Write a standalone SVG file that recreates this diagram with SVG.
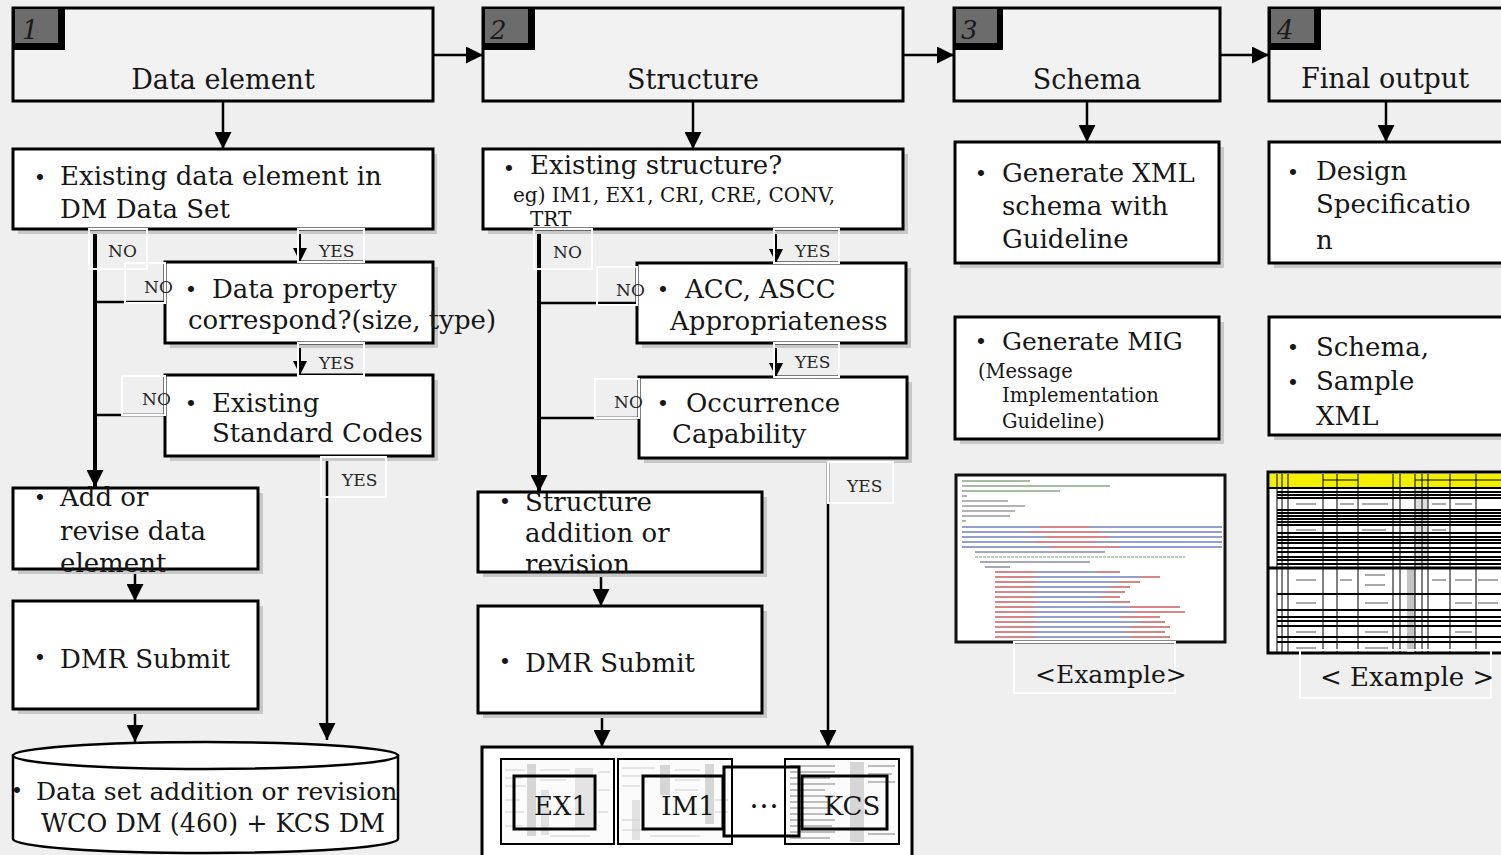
<svg xmlns="http://www.w3.org/2000/svg" width="1501" height="855" viewBox="0 0 1501 855">
<style>
.t{font-family:"DejaVu Serif","Liberation Serif",serif;font-size:26px;fill:#161616}
.hd{font-size:27px;text-anchor:middle}
.sm{font-size:20px}
.mi{font-size:19.5px}
.yn{font-size:17px;fill:#262626}
.bu{font-size:21px;text-anchor:middle}
.mid{text-anchor:middle}
.num{font-style:italic;font-size:26px;fill:#1a1a1a}
.hdr{fill:#f2f2f2;stroke:#000;stroke-width:3}
.box{fill:#fff;stroke:#000;stroke-width:3}
.sh{fill:#c8c8c8}
.tab{fill:#6c6c6c}
.lb{fill:none;stroke:#fff;stroke-width:2}
.c{fill:none;stroke:#000;stroke-width:2.5}
.ck{fill:none;stroke:#000;stroke-width:4}
.cy{fill:none;stroke:#000;stroke-width:2}
.fa{fill:#d6d6d6}
.fl{stroke:#cfcfcf;stroke-width:1.2}
.xg{stroke-width:1.4;fill:none}
.tv{stroke:#000;stroke-width:1}
.th{stroke:#000;stroke-width:2}
</style>
<defs>
<marker id="ah" viewBox="0 0 17 17" refX="17" refY="8.5" markerWidth="17" markerHeight="17" markerUnits="userSpaceOnUse" orient="auto"><path d="M0,0 L17,8.5 L0,17 z" fill="#000"/></marker>
<marker id="ahs" viewBox="0 0 14 14" refX="14" refY="7" markerWidth="14" markerHeight="14" markerUnits="userSpaceOnUse" orient="auto"><path d="M0,0 L14,7 L0,14 z" fill="#000"/></marker>
</defs>
<rect x="0" y="0" width="1501" height="855" fill="#efefef"/>

<!-- connectors -->
<g id="connectors">
<path class="c" d="M433,55 H483" marker-end="url(#ah)"/>
<path class="c" d="M903,55 H954" marker-end="url(#ah)"/>
<path class="c" d="M1220,55 H1269" marker-end="url(#ah)"/>
<path class="c" d="M223,101 V149" marker-end="url(#ah)"/>
<path class="c" d="M693,101 V149" marker-end="url(#ah)"/>
<path class="c" d="M1087,101 V142" marker-end="url(#ah)"/>
<path class="c" d="M1386,101 V142" marker-end="url(#ah)"/>
<path class="ck" d="M95,229 V487" marker-end="url(#ah)"/>
<path class="cy" d="M300,229 V262" marker-end="url(#ahs)"/>
<path class="c" d="M95,302 H165"/>
<path class="cy" d="M300,343 V375" marker-end="url(#ahs)"/>
<path class="c" d="M95,415 H165"/>
<path class="c" d="M327,456 V740" marker-end="url(#ah)"/>
<path class="c" d="M135,569 V601" marker-end="url(#ah)"/>
<path class="c" d="M135,709 V742" marker-end="url(#ah)"/>
<path class="ck" d="M539,229 V492" marker-end="url(#ah)"/>
<path class="cy" d="M776,229 V263" marker-end="url(#ahs)"/>
<path class="c" d="M539,303 H637"/>
<path class="cy" d="M776,343 V377" marker-end="url(#ahs)"/>
<path class="c" d="M539,418 H639"/>
<path class="c" d="M828,458 V747" marker-end="url(#ah)"/>
<path class="c" d="M601,572 V606" marker-end="url(#ah)"/>
<path class="c" d="M602,713 V747" marker-end="url(#ah)"/>
</g>

<!-- headers -->
<g id="h1">
<rect class="hdr" x="13" y="8" width="420" height="93"/>
<rect x="13" y="7" width="52" height="43" fill="#000"/>
<rect class="tab" x="15" y="9" width="43" height="34"/>
<text class="t num" x="22" y="39">1</text>
<text class="t hd" x="223" y="89">Data element</text>
</g>
<g id="h2">
<rect class="hdr" x="483" y="8" width="420" height="93"/>
<rect x="483" y="7" width="52" height="43" fill="#000"/>
<rect class="tab" x="485" y="9" width="43" height="34"/>
<text class="t num" x="490" y="39">2</text>
<text class="t hd" x="693" y="89">Structure</text>
</g>
<g id="h3">
<rect class="hdr" x="954" y="8" width="266" height="93"/>
<rect x="954" y="7" width="49" height="43" fill="#000"/>
<rect class="tab" x="956" y="9" width="41" height="34"/>
<text class="t num" x="961" y="39">3</text>
<text class="t hd" x="1087" y="89">Schema</text>
</g>
<g id="h4">
<rect class="hdr" x="1269" y="8" width="240" height="93"/>
<rect x="1269" y="7" width="52" height="43" fill="#000"/>
<rect class="tab" x="1271" y="9" width="43" height="34"/>
<text class="t num" x="1277" y="39">4</text>
<text class="t hd" x="1385" y="88">Final output</text>
</g>

<!-- column 1 -->
<g id="n-existing-element">
<rect class="sh" x="18" y="154" width="419" height="80"/>
<rect class="box" x="13" y="149" width="420" height="80"/>
<text class="t bu" x="40" y="185">•</text>
<text class="t" x="60" y="185">Existing data element in</text>
<text class="t" x="60" y="218">DM Data Set</text>
</g>
<g id="n-data-property">
<rect class="sh" x="170" y="267" width="268" height="81"/>
<rect class="box" x="165" y="262" width="268" height="81"/>
<text class="t bu" x="191" y="297">•</text>
<text class="t" x="212" y="298">Data property</text>
<text class="t" x="188" y="329">correspond?(size, type)</text>
</g>
<g id="n-standard-codes">
<rect class="sh" x="170" y="380" width="268" height="81"/>
<rect class="box" x="165" y="375" width="268" height="81"/>
<text class="t bu" x="191" y="411">•</text>
<text class="t" x="212" y="412">Existing</text>
<text class="t" x="212" y="442">Standard Codes</text>
</g>
<g id="n-add-revise">
<rect class="sh" x="18" y="493" width="245" height="81"/>
<rect class="box" x="13" y="488" width="245" height="81"/>
<text class="t bu" x="40" y="505">•</text>
<text class="t" x="60" y="506">Add or</text>
<text class="t" x="60" y="540">revise data</text>
<text class="t" x="60" y="572">element</text>
</g>
<g id="n-dmr1">
<rect class="sh" x="18" y="606" width="245" height="108"/>
<rect class="box" x="13" y="601" width="245" height="108"/>
<text class="t bu" x="40" y="665">•</text>
<text class="t" x="60" y="668">DMR Submit</text>
</g>
<g id="n-dataset">
<path d="M13,755.5 V839 A192.5,14 0 0 0 398,839 V755.5 Z" fill="#fff" stroke="#000" stroke-width="2.5"/>
<ellipse cx="205.5" cy="755.5" rx="192.5" ry="13.5" fill="#fff" stroke="#000" stroke-width="2.5"/>
<text class="t bu" x="17" y="798">•</text>
<text class="t" x="36" y="800" style="font-size:25px">Data set addition or revision</text>
<text class="t" x="41" y="832" style="font-size:25.4px">WCO DM (460) + KCS DM</text>
</g>

<!-- column 2 -->
<g id="n-existing-structure">
<rect class="sh" x="488" y="154" width="420" height="80"/>
<rect class="box" x="483" y="149" width="420" height="80"/>
<text class="t bu" x="509" y="176">•</text>
<text class="t" x="530" y="174">Existing structure?</text>
<text class="t sm" x="513" y="202">eg) IM1, EX1, CRI, CRE, CONV,</text>
<text class="t sm" x="530" y="226">TRT</text>
</g>
<g id="n-acc">
<rect class="sh" x="642" y="268" width="269" height="80"/>
<rect class="box" x="637" y="263" width="269" height="80"/>
<text class="t bu" x="663" y="297">•</text>
<text class="t" x="685" y="298">ACC, ASCC</text>
<text class="t" x="670" y="330">Appropriateness</text>
</g>
<g id="n-occurrence">
<rect class="sh" x="644" y="382" width="268" height="81"/>
<rect class="box" x="639" y="377" width="268" height="81"/>
<text class="t bu" x="663" y="411">•</text>
<text class="t" x="686" y="412">Occurrence</text>
<text class="t" x="672" y="443">Capability</text>
</g>
<g id="n-structure-add">
<rect class="sh" x="483" y="497" width="284" height="80"/>
<rect class="box" x="478" y="492" width="284" height="80"/>
<text class="t bu" x="505" y="509">•</text>
<text class="t" x="525" y="511">Structure</text>
<text class="t" x="525" y="542">addition or</text>
<text class="t" x="525" y="573">revision</text>
</g>
<g id="n-dmr2">
<rect class="sh" x="483" y="611" width="284" height="107"/>
<rect class="box" x="478" y="606" width="284" height="107"/>
<text class="t bu" x="505" y="669">•</text>
<text class="t" x="525" y="672">DMR Submit</text>
</g>
<g id="n-structures">
<rect class="box" x="482" y="747" width="430" height="115"/>
<rect x="501" y="759" width="113" height="85" fill="#fbfbfb" stroke="#000" stroke-width="2"/>
<g class="fa">
<rect x="527" y="764" width="9" height="72"/><rect x="575" y="768" width="18" height="60" opacity="0.6"/>
<rect x="541" y="790" width="8" height="45" opacity="0.7"/>
</g>
<g class="fl">
<path d="M505,770 H525 M505,778 H522 M505,786 H526 M505,800 H520 M505,812 H524 M505,826 H522 M540,770 H570 M540,780 H566 M598,772 H610 M598,790 H610 M598,812 H608 M550,836 H590"/>
</g>
<rect x="514" y="776" width="81" height="53" fill="none" stroke="#000" stroke-width="3"/>
<text class="t mid" x="561" y="815">EX1</text>
<rect x="618" y="759" width="114" height="85" fill="#fbfbfb" stroke="#000" stroke-width="2"/>
<g class="fa">
<rect x="660" y="765" width="10" height="30"/><rect x="705" y="764" width="9" height="60"/>
<rect x="632" y="800" width="8" height="40" opacity="0.7"/>
</g>
<g class="fl">
<path d="M622,768 H655 M622,776 H650 M622,786 H640 M675,770 H700 M675,780 H700 M675,790 H698 M622,820 H640 M622,830 H645 M650,836 H700 M715,800 H728 M715,812 H728"/>
</g>
<rect x="643" y="776" width="80" height="53" fill="none" stroke="#000" stroke-width="3"/>
<text class="t mid" x="688" y="815">IM1</text>
<rect x="785" y="759" width="114" height="85" fill="#fbfbfb" stroke="#000" stroke-width="2"/>
<g class="fa">
<rect x="850" y="762" width="14" height="80"/>
</g>
<g class="fl" style="stroke:#bdbdbd;stroke-width:2">
<path d="M790,766 H835 M790,772 H835 M790,778 H830 M790,784 H835 M790,790 H825 M790,796 H835 M790,802 H830 M790,808 H835 M790,814 H830 M790,820 H835 M790,826 H832 M790,832 H835 M790,838 H830 M868,766 H895 M868,774 H892 M868,782 H895 M868,834 H895"/>
</g>
<rect x="802" y="776" width="85" height="53" fill="none" stroke="#000" stroke-width="3"/>
<text class="t mid" x="852" y="815">KCS</text>
<rect x="724" y="767" width="75" height="69" fill="none" stroke="#000" stroke-width="3"/>
<text class="t mid" x="764" y="808" style="font-size:30px">…</text>
</g>

<!-- column 3 -->
<g id="n-xml-schema">
<rect class="sh" x="960" y="147" width="264" height="121"/>
<rect class="box" x="955" y="142" width="264" height="121"/>
<text class="t bu" x="981" y="181">•</text>
<text class="t" x="1002" y="182">Generate XML</text>
<text class="t" x="1002" y="215">schema with</text>
<text class="t" x="1002" y="248">Guideline</text>
</g>
<g id="n-mig">
<rect class="sh" x="960" y="322" width="264" height="122"/>
<rect class="box" x="955" y="317" width="264" height="122"/>
<text class="t bu" x="981" y="349">•</text>
<text class="t" x="1002" y="350" style="font-size:25px">Generate MIG</text>
<text class="t mi" x="978" y="378">(Message</text>
<text class="t mi" x="1002" y="402">Implementation</text>
<text class="t mi" x="1002" y="428">Guideline)</text>
</g>
<g id="n-xml-example">
<rect x="956" y="475" width="269" height="167" fill="#fff" stroke="#111" stroke-width="3"/>
<g class="xg">
<path stroke="#8aa58a" d="M962,481 H1030 M962,486 H1110 M962,491 H1060"/>
<path stroke="#9a9a9a" d="M962,496 H967 M962,501 H1008 M962,506 H1025 M962,511 H1015 M962,516 H1010 M962,521 H966"/>
<path stroke="#7080c0" d="M962,527 H1040 M1090,527 H1222 M962,532 H1030 M1100,532 H1222 M962,537 H1045 M1110,537 H1222 M962,542 H1035 M1095,542 H1222 M962,547 H1050 M1120,547 H1222"/>
<path stroke="#c86060" d="M1040,527 H1090 M1030,532 H1100 M1045,537 H1110 M1035,542 H1095 M1050,547 H1120"/>
<path stroke="#8a8aa0" d="M975,552 H1105 M980,562 H1090 M985,567 H1010"/>
<path stroke="#a8bca8" stroke-dasharray="3 1" d="M975,557 H1185"/>
<path stroke="#c86060" d="M995,572 H1035 M995,577 H1035 M995,582 H1035 M995,587 H1035 M995,592 H1035 M995,597 H1035 M995,602 H1035 M995,607 H1035 M995,612 H1035 M995,617 H1035 M995,622 H1035 M995,627 H1035 M995,632 H1035 M995,637 H1035"/>
<path stroke="#7080c0" d="M1035,572 H1095 M1035,577 H1140 M1035,582 H1120 M1035,587 H1110 M1035,592 H1105 M1035,597 H1100 M1035,602 H1110 M1035,607 H1130 M1035,612 H1135 M1035,617 H1120 M1035,622 H1140 M1035,627 H1130 M1035,632 H1125 M1035,637 H1130"/>
<path stroke="#c86060" d="M1095,572 H1120 M1140,577 H1160 M1120,582 H1140 M1110,587 H1130 M1105,592 H1125 M1100,597 H1120 M1110,602 H1130 M1130,607 H1180 M1135,612 H1185 M1120,617 H1160 M1140,622 H1165 M1130,627 H1170 M1125,632 H1165 M1130,637 H1170"/>
</g>
</g>
<g id="l-example1">
<rect class="lb" x="1014" y="642" width="161" height="51"/>
<text class="t" x="1035" y="683" style="font-size:25px">&lt;Example&gt;</text>
</g>

<!-- column 4 -->
<g id="n-design-spec">
<rect class="sh" x="1274" y="147" width="240" height="121"/>
<rect class="box" x="1269" y="142" width="240" height="121"/>
<text class="t bu" x="1293" y="180">•</text>
<text class="t" x="1316" y="180">Design</text>
<text class="t" x="1316" y="213">Specificatio</text>
<text class="t" x="1316" y="249">n</text>
</g>
<g id="n-schema-sample">
<rect class="sh" x="1274" y="322" width="240" height="118"/>
<rect class="box" x="1269" y="317" width="240" height="118"/>
<text class="t bu" x="1293" y="355">•</text>
<text class="t" x="1316" y="356">Schema,</text>
<text class="t bu" x="1293" y="390">•</text>
<text class="t" x="1316" y="390">Sample</text>
<text class="t" x="1316" y="425">XML</text>
</g>
<g id="n-table-example">
<rect x="1268" y="472" width="240" height="181" fill="#fff" stroke="#000" stroke-width="3"/>
<rect x="1270" y="474" width="240" height="13" fill="#f4ee00"/>
<rect x="1407" y="568" width="8" height="84" fill="#c4c4c4"/>
<rect x="1415" y="488" width="13" height="80" fill="#dedede"/>
<path class="tv" d="M1277,474 V652 M1282,474 V652 M1288,474 V652 M1323,474 V652 M1337,474 V652 M1358,474 V652 M1393,474 V652 M1400,474 V652 M1415,474 V652 M1422,474 V652 M1428,474 V652 M1450,474 V652 M1476,474 V652"/>
<path class="tv" d="M1323,480 H1358 M1415,480 H1428 M1428,480 H1501"/>
<path class="th" d="M1268,488 H1501 M1277,492 H1501 M1277,495 H1501 M1277,498 H1501 M1277,510 H1501 M1277,513 H1501 M1277,516 H1501 M1277,519 H1501 M1277,522 H1501 M1277,525 H1501 M1277,533 H1501 M1277,537 H1501 M1277,540 H1501 M1277,543 H1501 M1277,548 H1501 M1277,552 H1501 M1277,557 H1501 M1277,560 H1501 M1277,564 H1501"/>
<path d="M1268,568 H1501" stroke="#000" stroke-width="3"/>
<path class="th" d="M1277,594 H1501 M1277,610 H1501 M1277,617 H1501 M1277,621 H1501 M1277,626 H1501 M1277,637 H1501 M1277,642 H1501"/>
<path stroke="#555" stroke-width="1.2" d="M1296,504 H1316 M1340,504 H1354 M1362,504 H1388 M1432,504 H1446 M1455,504 H1472 M1296,530 H1316 M1362,530 H1386 M1432,530 H1446 M1296,580 H1316 M1340,580 H1352 M1365,575 H1385 M1365,585 H1385 M1432,580 H1446 M1455,580 H1472 M1478,580 H1498 M1296,603 H1316 M1365,603 H1388 M1455,603 H1472 M1478,603 H1498 M1296,632 H1316 M1365,632 H1388 M1455,632 H1472 M1296,648 H1316 M1365,648 H1388"/>
</g>
<g id="l-example2">
<rect class="lb" x="1300" y="650" width="191" height="48"/>
<text class="t" x="1320" y="686">&lt; Example &gt;</text>
</g>

<!-- YES / NO labels -->
<g id="labels">
<rect class="lb" x="89" y="229" width="58" height="40"/>
<text class="t yn" x="108" y="257">NO</text>
<rect class="lb" x="298" y="229" width="66" height="33"/>
<text class="t yn" x="319" y="257">YES</text>
<rect class="lb" x="125" y="263" width="40" height="40"/>
<text class="t yn" x="144" y="293">NO</text>
<rect class="lb" x="298" y="343" width="66" height="33"/>
<text class="t yn" x="319" y="369">YES</text>
<rect class="lb" x="122" y="376" width="43" height="39"/>
<text class="t yn" x="142" y="405">NO</text>
<rect class="lb" x="321" y="457" width="65" height="40"/>
<text class="t yn" x="342" y="486">YES</text>
<rect class="lb" x="534" y="229" width="58" height="40"/>
<text class="t yn" x="553" y="258">NO</text>
<rect class="lb" x="774" y="229" width="65" height="34"/>
<text class="t yn" x="795" y="257">YES</text>
<rect class="lb" x="597" y="267" width="40" height="38"/>
<text class="t yn" x="616" y="296">NO</text>
<rect class="lb" x="774" y="343" width="65" height="34"/>
<text class="t yn" x="795" y="368">YES</text>
<rect class="lb" x="595" y="379" width="44" height="39"/>
<text class="t yn" x="614" y="408">NO</text>
<rect class="lb" x="828" y="462" width="65" height="41"/>
<text class="t yn" x="847" y="492">YES</text>
</g>
</svg>
